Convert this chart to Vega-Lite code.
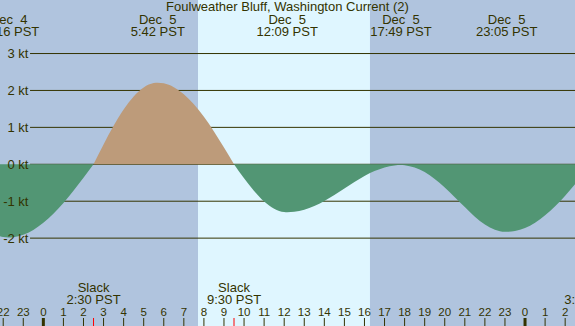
{
  "$schema": "https://vega.github.io/schema/vega-lite/v6.json",
  "width": 575,
  "height": 326,
  "autosize": "none",
  "padding": 0,
  "background": "#b0c4de",
  "config": {"view": {"stroke": null}, "font": "Liberation Sans", "axis": {"labelOverlap": false}},
  "title": {
    "text": "Foulweather Bluff, Washington Current (2)",
    "anchor": "middle",
    "offset": -12,
    "dy": 12,
    "baseline": "alphabetic",
    "font": "Liberation Sans",
    "fontSize": 13,
    "fontWeight": "normal",
    "color": "#333300"
  },
  "datasets": {
    "bands": [
      {"t": -3, "t2": 7.705, "kind": "night"},
      {"t": 7.705, "t2": 16.275, "kind": "day"},
      {"t": 16.275, "t2": 28, "kind": "night"}
    ],
    "grid": [{"kt": -2}, {"kt": -1}, {"kt": 0}, {"kt": 1}, {"kt": 2}, {"kt": 3}],
    "hours": [
      {"t": -2, "h": "22"}, {"t": -1, "h": "23"}, {"t": 0, "h": "0"}, {"t": 1, "h": "1"},
      {"t": 2, "h": "2"}, {"t": 3, "h": "3"}, {"t": 4, "h": "4"}, {"t": 5, "h": "5"},
      {"t": 6, "h": "6"}, {"t": 7, "h": "7"}, {"t": 8, "h": "8"}, {"t": 9, "h": "9"},
      {"t": 10, "h": "10"}, {"t": 11, "h": "11"}, {"t": 12, "h": "12"}, {"t": 13, "h": "13"},
      {"t": 14, "h": "14"}, {"t": 15, "h": "15"}, {"t": 16, "h": "16"}, {"t": 17, "h": "17"},
      {"t": 18, "h": "18"}, {"t": 19, "h": "19"}, {"t": 20, "h": "20"}, {"t": 21, "h": "21"},
      {"t": 22, "h": "22"}, {"t": 23, "h": "23"}, {"t": 24, "h": "0"}, {"t": 25, "h": "1"},
      {"t": 26, "h": "2"}
    ],
    "curve": [
      {"t": -2.5, "v": -1.89, "seg": 1, "phase": "ebb"},
      {"t": -2.0, "v": -1.97, "seg": 1, "phase": "ebb"},
      {"t": -1.73, "v": -1.98, "seg": 1, "phase": "ebb"},
      {"t": -1.5, "v": -1.973, "seg": 1, "phase": "ebb"},
      {"t": -1.0, "v": -1.908, "seg": 1, "phase": "ebb"},
      {"t": -0.5, "v": -1.777, "seg": 1, "phase": "ebb"},
      {"t": 0.0, "v": -1.585, "seg": 1, "phase": "ebb"},
      {"t": 0.5, "v": -1.339, "seg": 1, "phase": "ebb"},
      {"t": 1.0, "v": -1.047, "seg": 1, "phase": "ebb"},
      {"t": 1.5, "v": -0.718, "seg": 1, "phase": "ebb"},
      {"t": 2.0, "v": -0.366, "seg": 1, "phase": "ebb"},
      {"t": 2.5, "v": 0, "seg": 1, "phase": "ebb"},
      {"t": 2.5, "v": 0, "seg": 2, "phase": "flood"},
      {"t": 3.0, "v": 0.537, "seg": 2, "phase": "flood"},
      {"t": 3.5, "v": 1.042, "seg": 2, "phase": "flood"},
      {"t": 4.0, "v": 1.484, "seg": 2, "phase": "flood"},
      {"t": 4.5, "v": 1.838, "seg": 2, "phase": "flood"},
      {"t": 5.0, "v": 2.081, "seg": 2, "phase": "flood"},
      {"t": 5.5, "v": 2.199, "seg": 2, "phase": "flood"},
      {"t": 5.7, "v": 2.21, "seg": 2, "phase": "flood"},
      {"t": 6.0, "v": 2.193, "seg": 2, "phase": "flood"},
      {"t": 6.5, "v": 2.09, "seg": 2, "phase": "flood"},
      {"t": 7.0, "v": 1.898, "seg": 2, "phase": "flood"},
      {"t": 7.5, "v": 1.626, "seg": 2, "phase": "flood"},
      {"t": 8.0, "v": 1.285, "seg": 2, "phase": "flood"},
      {"t": 8.5, "v": 0.888, "seg": 2, "phase": "flood"},
      {"t": 9.0, "v": 0.453, "seg": 2, "phase": "flood"},
      {"t": 9.5, "v": 0, "seg": 2, "phase": "flood"},
      {"t": 9.5, "v": 0, "seg": 3, "phase": "ebb"},
      {"t": 10.0, "v": -0.38, "seg": 3, "phase": "ebb"},
      {"t": 10.5, "v": -0.726, "seg": 3, "phase": "ebb"},
      {"t": 11.0, "v": -1.01, "seg": 3, "phase": "ebb"},
      {"t": 11.5, "v": -1.205, "seg": 3, "phase": "ebb"},
      {"t": 12.0, "v": -1.295, "seg": 3, "phase": "ebb"},
      {"t": 12.15, "v": -1.3, "seg": 3, "phase": "ebb"},
      {"t": 12.5, "v": -1.288, "seg": 3, "phase": "ebb"},
      {"t": 13.0, "v": -1.23, "seg": 3, "phase": "ebb"},
      {"t": 13.5, "v": -1.129, "seg": 3, "phase": "ebb"},
      {"t": 14.0, "v": -0.992, "seg": 3, "phase": "ebb"},
      {"t": 14.5, "v": -0.83, "seg": 3, "phase": "ebb"},
      {"t": 15.0, "v": -0.655, "seg": 3, "phase": "ebb"},
      {"t": 15.5, "v": -0.48, "seg": 3, "phase": "ebb"},
      {"t": 16.0, "v": -0.319, "seg": 3, "phase": "ebb"},
      {"t": 16.5, "v": -0.184, "seg": 3, "phase": "ebb"},
      {"t": 17.0, "v": -0.085, "seg": 3, "phase": "ebb"},
      {"t": 17.5, "v": -0.03, "seg": 3, "phase": "ebb"},
      {"t": 17.82, "v": -0.02, "seg": 3, "phase": "ebb"},
      {"t": 18.0, "v": -0.025, "seg": 3, "phase": "ebb"},
      {"t": 18.5, "v": -0.09, "seg": 3, "phase": "ebb"},
      {"t": 19.0, "v": -0.21, "seg": 3, "phase": "ebb"},
      {"t": 19.5, "v": -0.4, "seg": 3, "phase": "ebb"},
      {"t": 20.0, "v": -0.63, "seg": 3, "phase": "ebb"},
      {"t": 20.5, "v": -0.89, "seg": 3, "phase": "ebb"},
      {"t": 21.0, "v": -1.16, "seg": 3, "phase": "ebb"},
      {"t": 21.5, "v": -1.42, "seg": 3, "phase": "ebb"},
      {"t": 22.0, "v": -1.63, "seg": 3, "phase": "ebb"},
      {"t": 22.5, "v": -1.77, "seg": 3, "phase": "ebb"},
      {"t": 23.0, "v": -1.829, "seg": 3, "phase": "ebb"},
      {"t": 23.08, "v": -1.83, "seg": 3, "phase": "ebb"},
      {"t": 23.5, "v": -1.808, "seg": 3, "phase": "ebb"},
      {"t": 24.0, "v": -1.724, "seg": 3, "phase": "ebb"},
      {"t": 24.5, "v": -1.58, "seg": 3, "phase": "ebb"},
      {"t": 25.0, "v": -1.382, "seg": 3, "phase": "ebb"},
      {"t": 25.5, "v": -1.137, "seg": 3, "phase": "ebb"},
      {"t": 26.0, "v": -0.851, "seg": 3, "phase": "ebb"},
      {"t": 26.5, "v": -0.537, "seg": 3, "phase": "ebb"},
      {"t": 27.0, "v": -0.204, "seg": 3, "phase": "ebb"},
      {"t": 27.3, "v": 0, "seg": 3, "phase": "ebb"}
    ],
    "events": [
      {"t": -1.733, "date": "Dec\u00a0 4", "time": "22:16 PST"},
      {"t": 5.7, "date": "Dec\u00a0 5", "time": "5:42 PST"},
      {"t": 12.15, "date": "Dec\u00a0 5", "time": "12:09 PST"},
      {"t": 17.817, "date": "Dec\u00a0 5", "time": "17:49 PST"},
      {"t": 23.083, "date": "Dec\u00a0 5", "time": "23:05 PST"}
    ],
    "slack": [
      {"t": 2.5, "label": "Slack", "time": "2:30 PST"},
      {"t": 9.5, "label": "Slack", "time": "9:30 PST"},
      {"t": 27.3, "label": "Slack", "time": "3:18 PST"}
    ]
  },
  "layer": [
    {
      "data": {"name": "bands"},
      "mark": {"type": "rect"},
      "encoding": {
        "x": {"field": "t", "type": "quantitative", "scale": {"domain": [-2.16, 26.49], "nice": false, "zero": false}, "axis": null},
        "x2": {"field": "t2"},
        "color": {
          "field": "kind",
          "type": "nominal",
          "scale": {"domain": ["night", "day", "flood", "ebb"], "range": ["#b0c4de", "#dff6ff", "#bd9b7a", "#529674"]},
          "legend": null
        }
      }
    },
    {
      "data": {"name": "grid"},
      "mark": {"type": "rule", "color": "#333300", "strokeWidth": 1},
      "encoding": {
        "y": {
          "field": "kt",
          "type": "quantitative",
          "scale": {"domain": [-4.38, 4.45], "nice": false, "zero": false},
          "axis": {
            "orient": "left",
            "offset": -30,
            "title": null,
            "domain": false,
            "ticks": false,
            "grid": false,
            "values": [-2, -1, 0, 1, 2, 3],
            "labelExpr": "datum.value + ' kt'",
            "labelFont": "Liberation Sans",
            "labelFontSize": 13,
            "labelColor": "#333300",
            "labelPadding": 2,
            "zindex": 1
          }
        },
        "x": {"datum": -0.663, "type": "quantitative"},
        "x2": {"datum": 28}
      }
    },
    {
      "data": {"name": "curve"},
      "mark": {"type": "area", "interpolate": "monotone"},
      "encoding": {
        "x": {"field": "t", "type": "quantitative"},
        "y": {"field": "v", "type": "quantitative", "stack": null},
        "y2": {"datum": 0},
        "color": {
          "field": "phase",
          "type": "nominal",
          "scale": {"domain": ["night", "day", "flood", "ebb"], "range": ["#b0c4de", "#dff6ff", "#bd9b7a", "#529674"]},
          "legend": null
        },
        "detail": {"field": "seg", "type": "nominal"}
      }
    },
    {
      "data": {"name": "hours"},
      "mark": {"type": "rule", "color": "#333300"},
      "encoding": {
        "x": {"field": "t", "type": "quantitative"},
        "y": {"datum": -4.38},
        "y2": {"datum": -4.163},
        "strokeWidth": {"condition": {"test": "datum.t % 24 == 0", "value": 3}, "value": 1}
      }
    },
    {
      "data": {"name": "slack"},
      "mark": {"type": "rule", "color": "#ff0000", "strokeWidth": 1},
      "encoding": {
        "x": {"field": "t", "type": "quantitative"},
        "y": {"datum": -4.38},
        "y2": {"datum": -4.163}
      }
    },
    {
      "data": {"name": "hours"},
      "mark": {"type": "text", "font": "Liberation Sans", "fontSize": 11.5, "color": "#333300", "baseline": "alphabetic", "align": "center"},
      "encoding": {
        "x": {"field": "t", "type": "quantitative"},
        "y": {"datum": -4.109},
        "text": {"field": "h"}
      }
    },
    {
      "data": {"name": "events"},
      "mark": {"type": "text", "font": "Liberation Sans", "fontSize": 13, "color": "#333300", "baseline": "alphabetic", "align": "center"},
      "encoding": {
        "x": {"field": "t", "type": "quantitative"},
        "y": {"datum": 3.79},
        "text": {"field": "date"}
      }
    },
    {
      "data": {"name": "events"},
      "mark": {"type": "text", "font": "Liberation Sans", "fontSize": 13, "color": "#333300", "baseline": "alphabetic", "align": "center"},
      "encoding": {
        "x": {"field": "t", "type": "quantitative"},
        "y": {"datum": 3.477},
        "text": {"field": "time"}
      }
    },
    {
      "data": {"name": "slack"},
      "mark": {"type": "text", "font": "Liberation Sans", "fontSize": 13, "color": "#333300", "baseline": "alphabetic", "align": "center"},
      "encoding": {
        "x": {"field": "t", "type": "quantitative"},
        "y": {"datum": -3.451},
        "text": {"field": "label"}
      }
    },
    {
      "data": {"name": "slack"},
      "mark": {"type": "text", "font": "Liberation Sans", "fontSize": 13, "color": "#333300", "baseline": "alphabetic", "align": "center"},
      "encoding": {
        "x": {"field": "t", "type": "quantitative"},
        "y": {"datum": -3.776},
        "text": {"field": "time"}
      }
    }
  ]
}
